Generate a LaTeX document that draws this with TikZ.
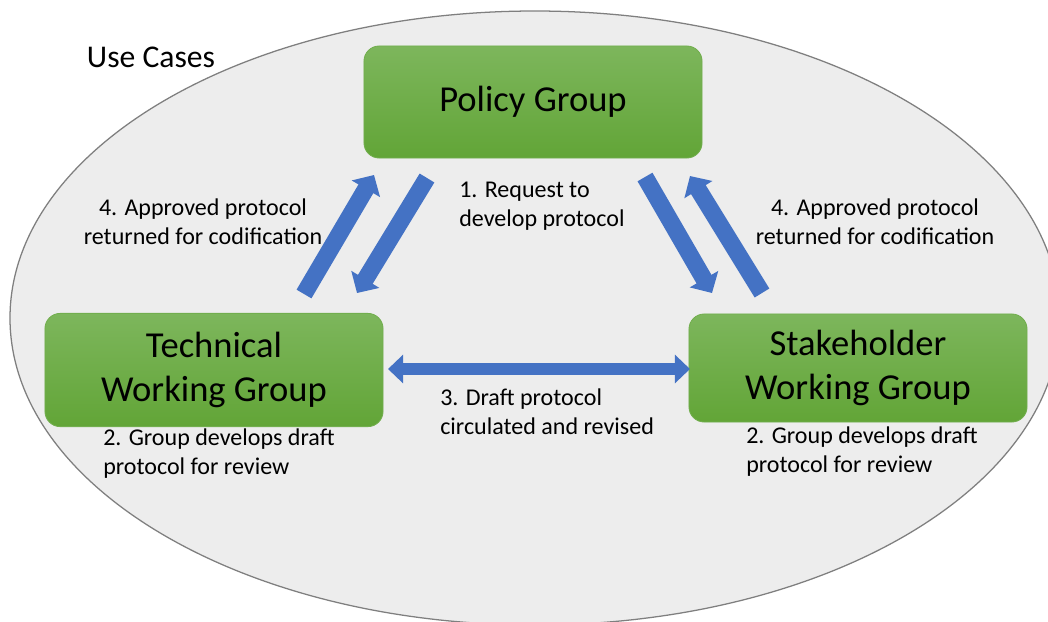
\documentclass[tikz,border=0pt]{standalone}
\usepackage{fontspec}
\setmainfont{Carlito}
\usepackage{tikz}
\usetikzlibrary{arrows.meta}
\definecolor{CaseFill}{HTML}{EDEDED}
\definecolor{CaseEdge}{HTML}{7F7F7F}
\definecolor{GroupTop}{HTML}{7DB65C}
\definecolor{GroupBottom}{HTML}{62A537}
\definecolor{GroupEdge}{HTML}{72AE4E}
\definecolor{FlowBlue}{HTML}{4472C4}

\begin{document}
\begin{tikzpicture}[x=0.025cm,y=-0.025cm,
  group/.style={draw=GroupEdge,line width=0.6pt,rounded corners=0.38cm,top color=GroupTop,bottom color=GroupBottom,minimum width=8.45cm,minimum height=2.8cm,align=center,font=\fontsize{26}{31}\selectfont,inner sep=0pt},
  note/.style={font=\fontsize{17.1}{20.3}\selectfont,align=center,inner sep=0pt,text=black},
  flow/.style={draw=FlowBlue,line width=0.43cm,-{Triangle[width=0.8cm,length=0.4cm]}},
  twoway/.style={draw=FlowBlue,line width=0.3cm,{Triangle[width=0.7cm,length=0.38cm]}-{Triangle[width=0.7cm,length=0.38cm]}}
]
\clip (0,0) rectangle (1048,621);
\useasboundingbox (0,0) rectangle (1048,621);
\fill[white] (0,0) rectangle (1048,621);
\draw[CaseEdge,fill=CaseFill,line width=0.9pt] (535,318) ellipse [x radius=525,y radius=307];

\node[font=\fontsize{22.5}{27}\selectfont,inner sep=0pt] (usecases) at (151,57) {Use Cases};

\node[group] (policy) at (533,102) {Policy Group};
\node[group,minimum height=2.83cm] (technical) at (214,370) {Technical\\Working Group};
\node[group,minimum height=2.7cm] (stakeholder) at (858,368) {Stakeholder\\Working Group};

\node[note,align=left,anchor=west] (request) at (459,206) {1. Request to\\develop protocol};
\node[note] (approvedTech) at (203,222) {4. Approved protocol\\returned for codification};
\node[note] (approvedStake) at (875,222) {4. Approved protocol\\returned for codification};
\node[note,align=left,anchor=west] (draft) at (440,412) {3. Draft protocol\\circulated and revised};
\node[note,align=left,anchor=north west] (developTech) at (103,429) {2. Group develops draft\\protocol for review};
\node[note,align=left,anchor=north west] (developStake) at (746,427) {2. Group develops draft\\protocol for review};

\coordinate (techUp) at (304,294);
\coordinate (policyIn) at (374,175);
\coordinate (policyOut) at (427,178);
\coordinate (techIn) at (357,293);
\coordinate (policyOut2) at (645,177);
\coordinate (stakeIn) at (712,293);
\coordinate (stakeUp) at (762,293);
\coordinate (policyIn2) at (690,176);
\coordinate (techSide) at (388,369);
\coordinate (stakeSide) at (690,369);

\draw[flow] (techUp) -- (policyIn);
\draw[flow] (policyOut) -- (techIn);
\draw[flow] (policyOut2) -- (stakeIn);
\draw[flow] (stakeUp) -- (policyIn2);
\draw[twoway] (techSide) -- (stakeSide);
\end{tikzpicture}
\end{document}
